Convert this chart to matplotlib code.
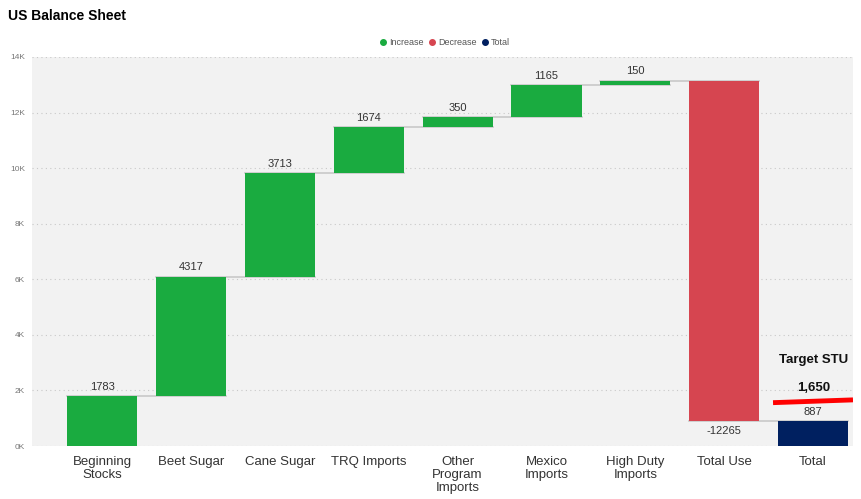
import numpy as np
import matplotlib.pyplot as plt
from matplotlib.lines import Line2D

plt.rcParams["font.family"] = ["Liberation Sans", "DejaVu Sans"]

categories = ["Beginning\nStocks", "Beet Sugar", "Cane Sugar", "TRQ Imports",
              "Other\nProgram\nImports", "Mexico\nImports", "High Duty\nImports",
              "Total Use", "Total"]
changes = [1783, 4317, 3713, 1674, 350, 1165, 150, -12265]
target_stu = 1650
target_ends = [1560, 1660]

GREEN = "#1aab40"
RED = "#d64550"
NAVY = "#002060"

# cumulative bases
bottoms = []
heights = []
colors = []
levels = []
running = 0
for c in changes:
    if c >= 0:
        bottoms.append(running)
        heights.append(c)
        colors.append(GREEN)
    else:
        bottoms.append(running + c)
        heights.append(-c)
        colors.append(RED)
    running += c
    levels.append(running)
total = running
bottoms.append(0)
heights.append(total)
colors.append(NAVY)

x = np.arange(len(categories))
w = 0.79

fig = plt.figure(figsize=(8.61, 4.99), dpi=100)
ax = fig.add_axes([0.0372, 0.1062, 0.9535, 0.7796])
ax.set_facecolor("#f2f2f2")

ax.bar(x, heights, bottom=bottoms, width=w, color=colors, zorder=3)

# connectors at the running level after each step
for i, lvl in enumerate(levels):
    ax.plot([x[i] - w / 2, x[i + 1] + w / 2], [lvl, lvl], color="#c8c8c8", lw=1.2, zorder=2)

# value labels
for i, c in enumerate(changes):
    if c >= 0:
        ax.text(x[i], bottoms[i] + heights[i] + 150, str(c), ha="center", va="bottom",
                fontsize=8, color="#333333")
    else:
        ax.text(x[i], bottoms[i] - 150, str(c), ha="center", va="top",
                fontsize=8, color="#333333")
ax.text(x[-1], total + 150, str(total), ha="center", va="bottom", fontsize=8, color="#333333")

# target line
ax.plot([7.55, 8.45], target_ends, color="#ff0000", lw=3.5, zorder=4, solid_capstyle="butt")
ax.text(8.01, 3100, "Target STU", ha="center", va="center", fontsize=9.5, fontweight="bold", color="#111111")
ax.text(8.01, 2070, f"{target_stu:,}", ha="center", va="center", fontsize=9.5, fontweight="bold", color="#111111")

ax.set_xlim(-0.79, 8.45)
ax.set_ylim(0, 14000)
ax.set_yticks(np.arange(0, 14001, 2000))
ax.set_yticklabels([f"{v // 1000}K" for v in range(0, 14001, 2000)], fontsize=6, color="#777777")
ax.set_xticks(x)
ax.set_xticklabels(categories, fontsize=9.5, color="#333333", linespacing=1.15)
ax.tick_params(axis="both", length=0)
ax.tick_params(axis="x", pad=7)
ax.tick_params(axis="y", pad=5)
ax.grid(axis="y", linestyle=(0, (1, 3)), color="#c8c8c8", lw=0.8, zorder=0)
for s in ax.spines.values():
    s.set_visible(False)

fig.text(0.0093, 0.968, "US Balance Sheet", fontsize=10, fontweight="bold", va="center", ha="left")

handles = [Line2D([], [], marker="o", ls="", color=GREEN, markersize=4),
           Line2D([], [], marker="o", ls="", color=RED, markersize=4),
           Line2D([], [], marker="o", ls="", color=NAVY, markersize=4)]
fig.legend(handles, ["Increase", "Decrease", "Total"], loc="center", bbox_to_anchor=(0.517, 0.914),
           ncol=3, frameon=False, fontsize=6.5, handlelength=0.6, handletextpad=0.4,
           columnspacing=0.6, labelcolor="#555555")

fig.savefig("out.png", dpi=100)
